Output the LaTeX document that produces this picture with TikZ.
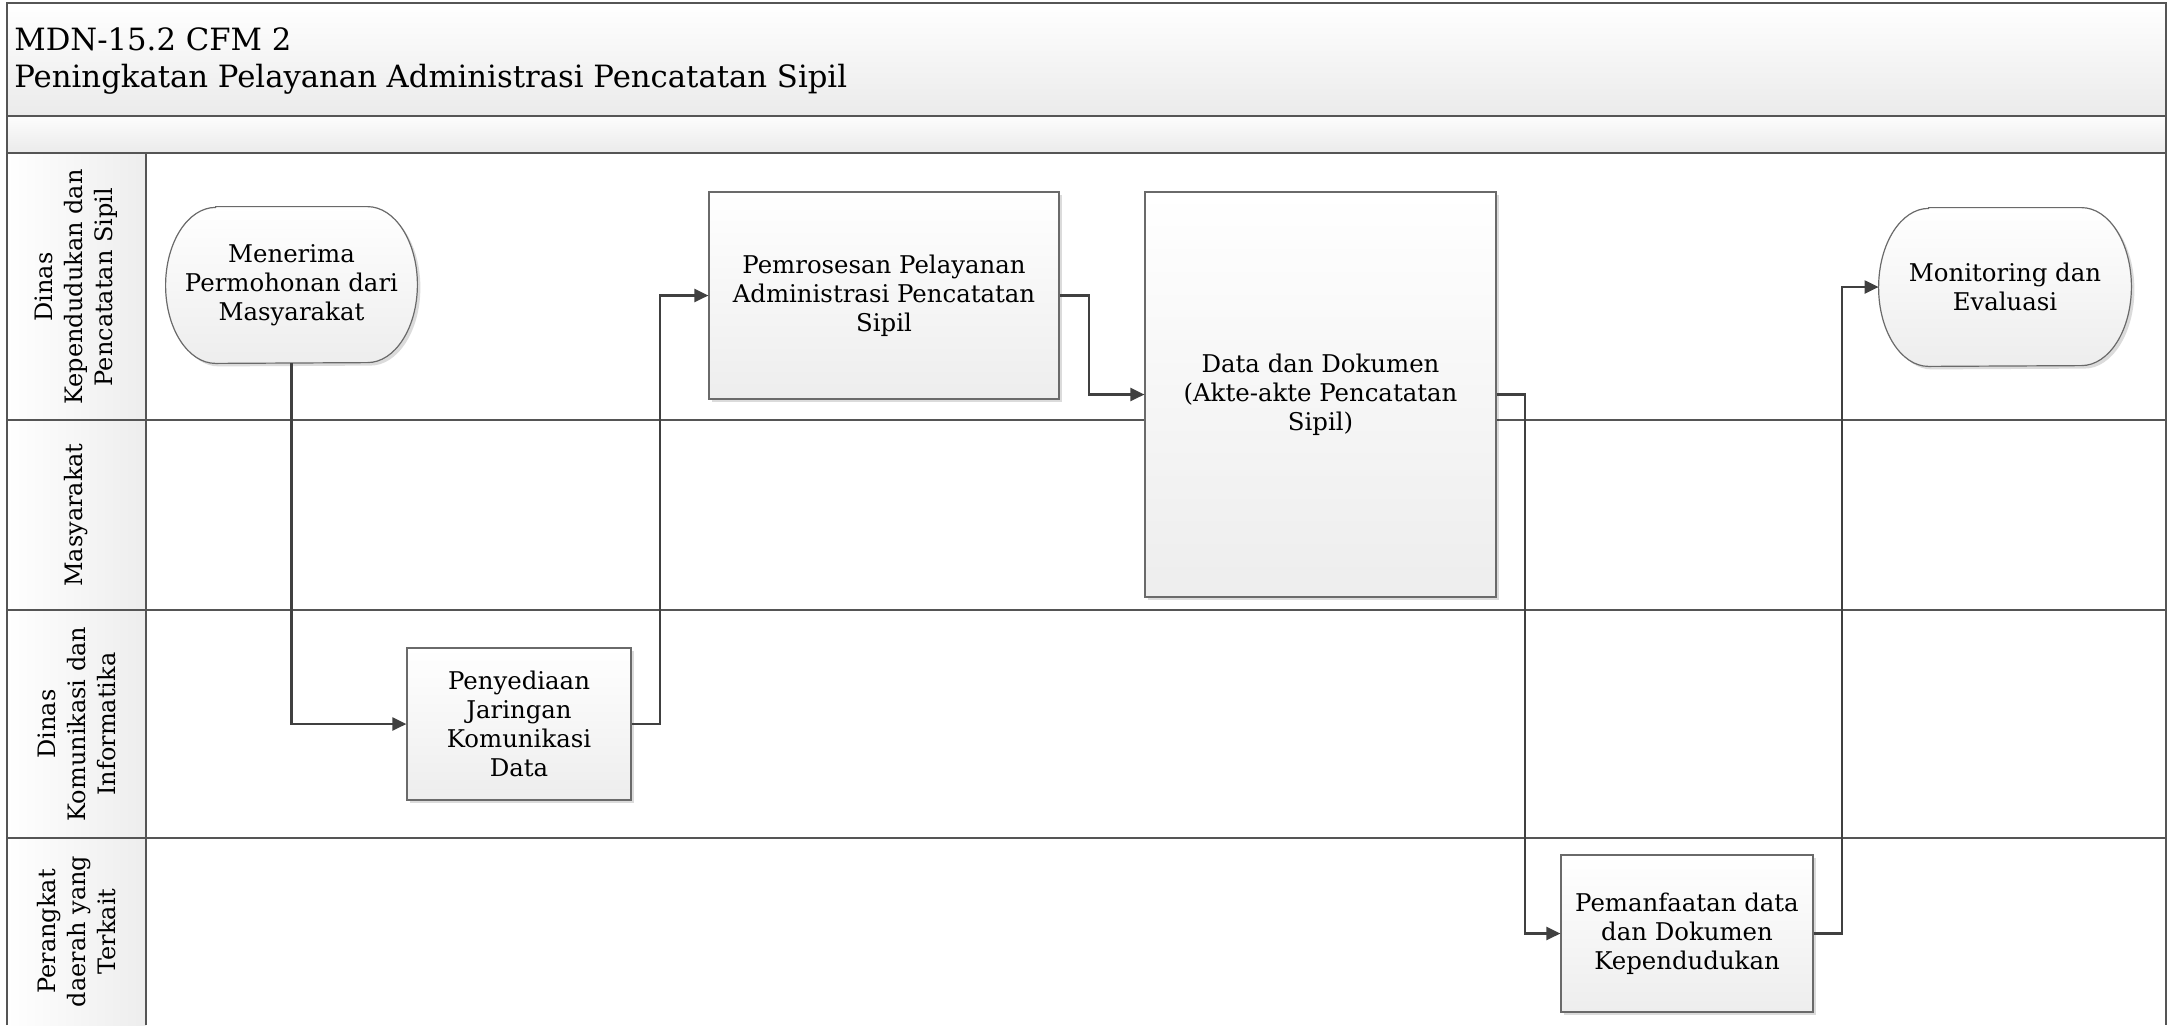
\documentclass[tikz,border=0pt]{standalone}
\usepackage{fontspec}
\setmainfont{DejaVu Serif}
\usetikzlibrary{arrows.meta,calc,shadows}
\pgfdeclarelayer{background}
\pgfsetlayers{background,main}
\definecolor{lineC}{HTML}{404040}
\definecolor{laneC}{HTML}{555555}
\definecolor{boxC}{HTML}{6A6A6A}
\newcommand\mynodefont{\fontsize{12.2}{14.6}\selectfont}
\newcommand\mylanefont{\fontsize{12}{15}\selectfont}
\newcommand\mytitlefont{\fontsize{15.35}{18.5}\selectfont}
\tikzset{
  boxshadow/.style={drop shadow={shadow xshift=1.5pt,shadow yshift=-1.5pt,fill=black,opacity=0.14}},
  procbox/.style={draw=boxC, line width=0.6pt, top color=white, bottom color=black!7,
    boxshadow, align=center, font=\mynodefont, inner sep=0pt},
  termtext/.style={align=center, font=\mynodefont, inner sep=0pt},
  termshape/.style={draw=boxC, line width=0.6pt, top color=white, bottom color=black!7, boxshadow},
  flow/.style={draw=lineC, line width=1.1pt, -{Triangle[length=7pt,width=6.5pt]}},
  laneline/.style={draw=laneC, line width=0.8pt},
  lanelabel/.style={rotate=90, align=center, font=\mylanefont, inner sep=0pt},
  titletext/.style={anchor=base west, font=\mytitlefont, inner sep=0pt},
}
\begin{document}
\begin{tikzpicture}[x=0.5pt,y=-0.5pt]
\useasboundingbox (0,0) rectangle (2168,1025);
% bands
\fill[top color=white,bottom color=black!8] (7,3) rectangle (2166,116);
\fill[top color=black!1,bottom color=black!8] (7,116) rectangle (2166,153);
\fill[left color=white,right color=black!7] (7,153) rectangle (146,1025);
% lines
\draw[laneline] (7,1025) -- (7,3) -- (2166,3) -- (2166,1025);
\draw[laneline] (7,116) -- (2166,116);
\draw[laneline] (7,153) -- (2166,153);
\draw[laneline] (7,420) -- (2166,420);
\draw[laneline] (7,610) -- (2166,610);
\draw[laneline] (7,838) -- (2166,838);
\draw[laneline] (146,153) -- (146,1025);
% title
\node[titletext] (t1) at (14,50) {MDN-15.2 CFM 2};
\node[titletext] (t2) at (14,87) {Peningkatan Pelayanan Administrasi Pencatatan Sipil};
% lane labels
\node[lanelabel] (l1) at (76.5,287) {Dinas\\Kependudukan dan\\Pencatatan Sipil};
\node[lanelabel] (l2) at (76.5,515) {Masyarakat};
\node[lanelabel] (l3) at (76.5,724) {Dinas\\Komunikasi dan\\Informatika};
\node[lanelabel] (l4) at (76.5,931.5) {Perangkat\\daerah yang\\Terkait};
% nodes
\node[termtext, minimum width=125.5pt, minimum height=78pt] (menerima) at (291.5,285) {Menerima\\Permohonan dari\\Masyarakat};
\node[procbox, minimum width=175pt, minimum height=103.5pt] (pemrosesan) at (884,295.5) {Pemrosesan Pelayanan\\Administrasi Pencatatan\\Sipil};
\node[procbox, minimum width=175.5pt, minimum height=202.5pt] (data) at (1320.5,394.5) {Data dan Dokumen\\(Akte-akte Pencatatan\\Sipil)};
\node[procbox, minimum width=112pt, minimum height=76pt] (penyediaan) at (519,724) {Penyediaan\\Jaringan\\Komunikasi\\Data};
\node[termtext, minimum width=126pt, minimum height=79pt] (monitoring) at (2005,287) {Monitoring dan\\Evaluasi};
\node[procbox, minimum width=126pt, minimum height=78.5pt] (pemanfaatan) at (1687,933.5) {Pemanfaatan data\\dan Dokumen\\Kependudukan};
% terminator shapes
\begin{pgfonlayer}{background}
\path[termshape] ($(menerima.north west)+(25pt,0)$) -- ($(menerima.north east)+(-25pt,0)$)
  arc[start angle=90,end angle=-90,x radius=25pt,y radius=39pt]
  -- ($(menerima.south west)+(25pt,0)$)
  arc[start angle=270,end angle=90,x radius=25pt,y radius=39pt] -- cycle;
\path[termshape] ($(monitoring.north west)+(25pt,0)$) -- ($(monitoring.north east)+(-25pt,0)$)
  arc[start angle=90,end angle=-90,x radius=25pt,y radius=39.5pt]
  -- ($(monitoring.south west)+(25pt,0)$)
  arc[start angle=270,end angle=90,x radius=25pt,y radius=39.5pt] -- cycle;
\end{pgfonlayer}
% connectors
\draw[flow] (menerima.south) |- (penyediaan.west);
\draw[flow] (penyediaan.east) -- ++(28,0) |- (pemrosesan.west);
\draw[flow] (pemrosesan.east) -- ++(29,0) |- (data.west);
\draw[flow] (data.east) -- ++(28,0) |- (pemanfaatan.west);
\draw[flow] (pemanfaatan.east) -- ++(28,0) |- (monitoring.west);
\end{tikzpicture}
\end{document}
